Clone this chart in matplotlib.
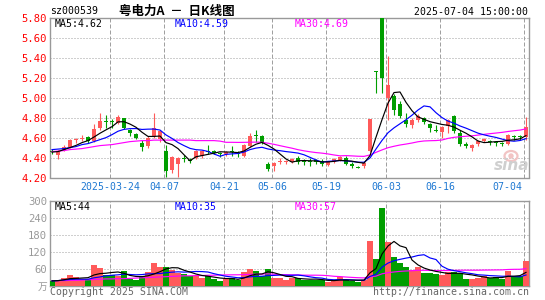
import numpy as np
import pandas as pd
import matplotlib
matplotlib.use("Agg")
import matplotlib.pyplot as plt
from matplotlib import transforms
from matplotlib.patches import Ellipse

# ---------------- data ----------------
opens = [4.47, 4.43, 4.48, 4.51, 4.58, 4.59, 4.61, 4.57, 4.70, 4.77,
         4.77, 4.75, 4.80, 4.68, 4.64, 4.55, 4.52, 4.62, 4.59, 4.47,
         4.28, 4.34, 4.40, 4.38, 4.40, 4.42, 4.47, 4.47, 4.45, 4.44,
         4.47, 4.45, 4.42, 4.52, 4.63, 4.62, 4.34, 4.32, 4.36, 4.36,
         4.36, 4.40, 4.37, 4.37, 4.38, 4.37, 4.33, 4.36, 4.38, 4.40,
         4.34, 4.31, 4.32, 4.47, 5.27, 5.80, 5.00, 5.02, 4.94, 4.78,
         4.73, 4.78, 4.80, 4.74, 4.68, 4.66, 4.72, 4.82, 4.65, 4.54,
         4.50, 4.54, 4.57, 4.57, 4.56, 4.55, 4.54, 4.62, 4.62, 4.61]
highs = [4.49, 4.48, 4.53, 4.59, 4.60, 4.63, 4.62, 4.74, 4.85, 4.83,
         4.79, 4.83, 4.80, 4.69, 4.65, 4.58, 4.62, 4.85, 4.68, 4.53,
         4.42, 4.41, 4.43, 4.40, 4.48, 4.48, 4.53, 4.48, 4.46, 4.47,
         4.52, 4.47, 4.54, 4.65, 4.68, 4.63, 4.36, 4.36, 4.40, 4.38,
         4.40, 4.42, 4.39, 4.40, 4.39, 4.39, 4.37, 4.40, 4.42, 4.42,
         4.36, 4.32, 4.36, 4.79, 5.27, 5.80, 5.42, 5.04, 4.97, 4.85,
         4.80, 4.84, 4.81, 4.75, 4.73, 4.72, 4.79, 4.83, 4.68, 4.56,
         4.54, 4.58, 4.60, 4.58, 4.57, 4.56, 4.64, 4.63, 4.63, 4.81]
lows = [4.44, 4.39, 4.47, 4.50, 4.55, 4.57, 4.55, 4.56, 4.68, 4.70,
        4.70, 4.74, 4.69, 4.62, 4.59, 4.47, 4.50, 4.60, 4.56, 4.20,
        4.25, 4.21, 4.36, 4.35, 4.39, 4.40, 4.44, 4.44, 4.41, 4.42,
        4.42, 4.41, 4.41, 4.51, 4.56, 4.54, 4.27, 4.27, 4.34, 4.34,
        4.35, 4.34, 4.33, 4.32, 4.34, 4.32, 4.32, 4.35, 4.37, 4.33,
        4.30, 4.30, 4.30, 4.46, 5.05, 5.05, 4.78, 4.83, 4.80, 4.71,
        4.70, 4.76, 4.74, 4.66, 4.66, 4.60, 4.65, 4.65, 4.52, 4.50,
        4.47, 4.52, 4.56, 4.53, 4.52, 4.52, 4.53, 4.58, 4.58, 4.58]
closes = [4.46, 4.47, 4.51, 4.58, 4.59, 4.60, 4.57, 4.69, 4.77, 4.76,
          4.76, 4.81, 4.70, 4.65, 4.60, 4.51, 4.60, 4.70, 4.67, 4.27,
          4.41, 4.40, 4.39, 4.37, 4.47, 4.47, 4.46, 4.45, 4.44, 4.46,
          4.46, 4.44, 4.53, 4.62, 4.62, 4.55, 4.29, 4.35, 4.37, 4.37,
          4.39, 4.36, 4.36, 4.36, 4.36, 4.34, 4.36, 4.39, 4.41, 4.34,
          4.32, 4.30, 4.35, 4.79, 5.26, 5.20, 5.13, 4.88, 4.82, 4.74,
          4.78, 4.82, 4.76, 4.70, 4.67, 4.71, 4.78, 4.67, 4.54, 4.52,
          4.53, 4.57, 4.59, 4.56, 4.55, 4.54, 4.63, 4.61, 4.61, 4.71]
volumes = [17, 18, 27, 37, 30, 24, 24, 75, 61, 37,
           37, 33, 51, 24, 19, 33, 49, 82, 65, 68,
           55, 46, 40, 33, 33, 29, 33, 24, 17, 24,
           29, 19, 47, 58, 51, 33, 58, 29, 27, 19,
           27, 27, 21, 21, 21, 19, 12, 17, 31, 21,
           17, 12, 19, 159, 96, 274, 155, 100, 80, 65,
           55, 68, 45, 45, 40, 37, 49, 49, 45, 24,
           24, 29, 33, 27, 31, 24, 51, 36, 36, 89]

# moving-average values at the left edge (history before the window)
ma5_head = [4.455, 4.46, 4.48, 4.50]
ma10_head = [4.48, 4.485, 4.49, 4.50, 4.51, 4.53, 4.54, 4.56, 4.58]
ma30_head = [4.46, 4.465, 4.47, 4.48, 4.485, 4.49, 4.50, 4.51, 4.52, 4.525,
             4.53, 4.54, 4.55, 4.56, 4.565, 4.57, 4.57, 4.575, 4.575, 4.575,
             4.575, 4.575, 4.575, 4.575, 4.57, 4.57, 4.57, 4.57, 4.565]
vma5_head = [17, 18, 21, 25]
vma10_head = [17, 18, 20, 22, 23, 23, 23, 28, 31]
vma30_head = [18, 18, 18, 19, 19, 20, 21, 22, 23, 24, 24, 25, 25, 26, 27,
              28, 29, 30, 31, 32, 33, 34, 35, 35, 36, 36, 37, 37, 38]

tick_idx = [10, 19, 29, 37, 46, 56, 65, 79]
tick_labels = ["2025-03-24", "04-07", "04-21", "05-06", "05-19", "06-03", "06-16", "07-04"]
price_ticks = [5.80, 5.60, 5.40, 5.20, 5.00, 4.80, 4.60, 4.40, 4.20]
vol_ticks = [300, 240, 180, 120, 60, 0]
vol_tick_labels = ["300", "240", "180", "120", "60", "万"]

code = "sz000539"
title = "粤电力A  －  日K线图"
stamp = "2025-07-04 15:00:00"
ma_price_text = ["MA5:4.62", "MA10:4.59", "MA30:4.69"]
ma_vol_text = ["MA5:44", "MA10:35", "MA30:57"]

# ---------------- style ----------------
RED = "#FF5A5A"
GREEN = "#009E00"
BLUE = "#0000FF"
MAG = "#FF00FF"
GRID = "#A0A0A0"
MONO = "DejaVu Sans Mono"

W, H = 545, 300
fx = lambda x: x / W
fy = lambda y: 1 - y / H

fig = plt.figure(figsize=(W / 100, H / 100), dpi=100)
fig.patch.set_facecolor("white")
axp = fig.add_axes([fx(50), fy(177.5), fx(529) - fx(50), fy(18) - fy(177.5)])
axv = fig.add_axes([fx(50), fy(285.7), fx(529) - fx(50), fy(201) - fy(285.7)])

o = np.array(opens); h = np.array(highs); l = np.array(lows); c = np.array(closes)
v = np.array(volumes, dtype=float)
n = len(c)
x = np.arange(n)
up = c >= o
cols = np.where(up, RED, GREEN)

def ma(series, w, head):
    m = pd.Series(series).rolling(w).mean().to_numpy()
    m[:len(head)] = head
    return m

ma5 = ma(c, 5, ma5_head); ma10 = ma(c, 10, ma10_head); ma30 = ma(c, 30, ma30_head)
vma5 = ma(v, 5, vma5_head); vma10 = ma(v, 10, vma10_head); vma30 = ma(v, 30, vma30_head)

xlim = (-1 / 3, 79.5)
for ax in (axp, axv):
    ax.set_xlim(*xlim)
    for s in ax.spines.values():
        s.set_color("#999999")
        s.set_linewidth(1.0)
    ax.set_xticks([])
    ax.tick_params(axis="y", length=0, pad=2.2)
    for t in tick_idx:
        ax.axvline(t - 0.35, color=GRID, lw=0.72, linestyle=(0, (4, 2)), zorder=0)

# price panel
axp.set_ylim(4.20, 5.80)
for p in price_ticks[1:-1]:
    axp.axhline(p, color=GRID, lw=0.72, linestyle=(0, (1, 2)), zorder=0)
axp.set_yticks(price_ticks)
axp.set_yticklabels([f"{p:.2f}" for p in price_ticks], color="#FF0000",
                    fontfamily=MONO, fontsize=7.6)

# watermark (behind the marks)
ident = transforms.IdentityTransform()
fig.add_artist(Ellipse((511, H - 156), 13, 10, transform=ident, fill=False,
                       edgecolor="#F2C4C4", lw=1.6, zorder=0.5))
fig.add_artist(Ellipse((511, H - 156), 4, 4, transform=ident, color="#F2C4C4", zorder=0.5))
fig.text(fx(512), fy(166), "sina", color="#CFCFCF", fontsize=11, fontstyle="italic",
         fontweight="bold", va="center", ha="center", zorder=0.5)

axp.vlines(x, l, h, colors=cols, lw=0.8, zorder=2)
body_b = np.minimum(o, c)
body_h = np.maximum(np.abs(c - o), 0.01)
axp.bar(x, body_h, bottom=body_b, width=0.72, color=cols, linewidth=0, zorder=3)
axp.plot(x, ma30, color=MAG, lw=0.85, zorder=4)
axp.plot(x, ma10, color=BLUE, lw=0.85, zorder=4)
axp.plot(x, ma5, color="black", lw=0.85, zorder=4)
axp.patch.set_alpha(0)

# volume panel
axv.set_ylim(0, 300)
for q in vol_ticks[1:-1]:
    axv.axhline(q, color=GRID, lw=0.72, linestyle=(0, (1, 2)), zorder=0)
axv.set_yticks(vol_ticks)
axv.set_yticklabels(vol_tick_labels, color="#999999", fontfamily=MONO, fontsize=7.6)
axv.get_yticklabels()[-1].set_fontfamily(["Noto Sans CJK SC", "DejaVu Sans"])
axv.get_yticklabels()[-1].set_fontsize(7)
axv.bar(x, v, width=0.84, color=cols, linewidth=0, zorder=3)
axv.plot(x, vma30, color=MAG, lw=0.85, zorder=4)
axv.plot(x, vma10, color=BLUE, lw=0.85, zorder=4)
axv.plot(x, vma5, color="black", lw=0.85, zorder=4)

# texts
fs = 7.1
fig.text(fx(50), fy(11.5), code, fontfamily=MONO, fontsize=fs, va="center", ha="left")
fig.text(fx(177), fy(11), title, fontfamily=["Noto Sans CJK SC", "DejaVu Sans"],
         fontsize=9, va="center", ha="center", fontweight="bold")
fig.text(fx(528.5), fy(12), stamp, fontfamily=MONO, fontsize=fs, va="center", ha="right")

for txt, col, xp in zip(ma_price_text, ["black", BLUE, MAG], [54.5, 174.5, 294.5]):
    fig.text(fx(xp), fy(24), txt, color=col, fontfamily=MONO, fontsize=fs, va="center", ha="left")
for txt, col, xp in zip(ma_vol_text, ["black", BLUE, MAG], [54.5, 174.5, 294.5]):
    fig.text(fx(xp), fy(206.5), txt, color=col, fontfamily=MONO, fontsize=fs, va="center", ha="left")

blend = transforms.blended_transform_factory(axp.transData, fig.transFigure)
for t, lab in zip(tick_idx, tick_labels):
    if t == tick_idx[-1]:
        fig.text(t - 0.6, fy(186.5), lab, color="#1E78D2", fontfamily=MONO, fontsize=fs,
                 va="center", ha="right", transform=blend)
    else:
        fig.text(t - 0.35, fy(186.5), lab, color="#1E78D2", fontfamily=MONO, fontsize=fs,
                 va="center", ha="center", transform=blend)

fig.text(fx(50), fy(292), "Copyright 2025 SINA.COM", color="#666666", fontfamily=MONO,
         fontsize=fs, va="center", ha="left")
fig.text(fx(529), fy(292), "http://finance.sina.com.cn", color="#666666", fontfamily=MONO,
         fontsize=fs, va="center", ha="right")

fig.savefig("out.png", dpi=100)
